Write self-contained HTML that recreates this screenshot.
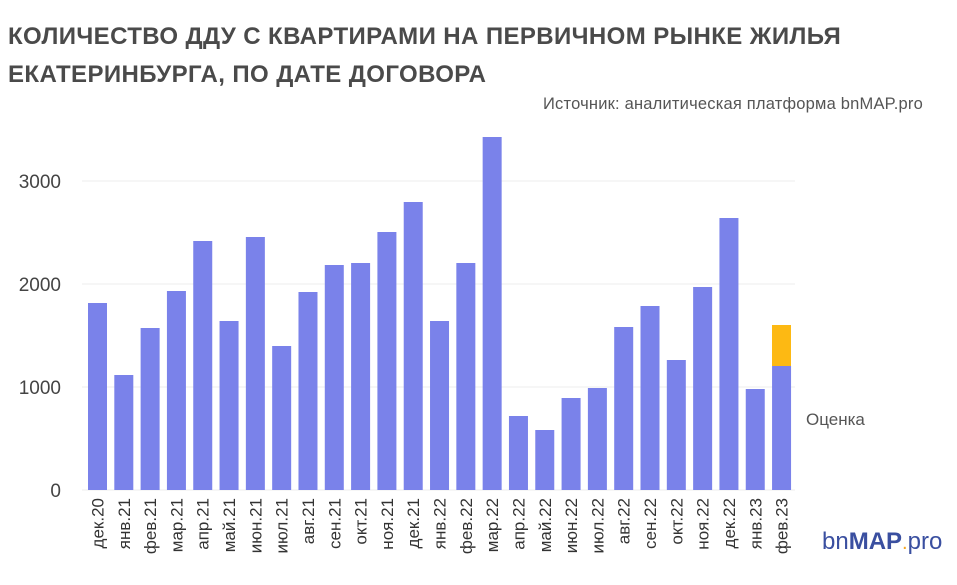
<!DOCTYPE html>
<html><head><meta charset="utf-8"><style>
body{margin:0;width:957px;height:585px;background:#fff;font-family:"Liberation Sans","DejaVu Sans",sans-serif;overflow:hidden;position:relative}
.t{position:absolute;left:8px;font-weight:bold;font-size:24px;color:#4a4a4a;letter-spacing:0.4px}
</style></head><body>
<div class="t" style="top:23px">КОЛИЧЕСТВО ДДУ С КВАРТИРАМИ НА ПЕРВИЧНОМ РЫНКЕ ЖИЛЬЯ</div>
<div class="t" style="top:61px">ЕКАТЕРИНБУРГА, ПО ДАТЕ ДОГОВОРА</div>
<div style="position:absolute;left:543px;top:95px;font-size:16.5px;color:#555;letter-spacing:0.2px">Источник: аналитическая платформа bnMAP.pro</div>
<svg width="957" height="585" style="position:absolute;left:0;top:0" font-family="Liberation Sans, DejaVu Sans, sans-serif">
<g stroke="#eee" stroke-width="1">
<line x1="82" x2="795" y1="181" y2="181"/><line x1="82" x2="795" y1="284" y2="284"/><line x1="82" x2="795" y1="387" y2="387"/><line x1="82" x2="795" y1="490" y2="490"/>
</g>
<g font-size="19" fill="#444" text-anchor="end">
<text x="61" y="188">3000</text><text x="61" y="291">2000</text><text x="61" y="394">1000</text><text x="61" y="497">0</text>
</g>
<g id="bars" fill="#7a82ea"></g>
<rect x="772" y="325" width="19" height="41" fill="#fdb913"/>
<g id="lab" font-size="17" fill="#333" text-anchor="end"></g>
<text x="806" y="425" font-size="17" fill="#555">Оценка</text>
<text x="822" y="549" font-size="24" fill="#3a4fa0">bn<tspan font-weight="bold">MAP</tspan><tspan fill="#f5a623" font-size="20">.</tspan>pro</text>
</svg>
<script>
var tops=[303,375,328,291,241,321,237,346,292,265,263,232,202,321,263,137,416,430,398,388,327,306,360,287,218,389,366];
var labs=["дек.20","янв.21","фев.21","мар.21","апр.21","май.21","июн.21","июл.21","авг.21","сен.21","окт.21","ноя.21","дек.21","янв.22","фев.22","мар.22","апр.22","май.22","июн.22","июл.22","авг.22","сен.22","окт.22","ноя.22","дек.22","янв.23","фев.23"];
var ns="http://www.w3.org/2000/svg",b=document.getElementById("bars"),l=document.getElementById("lab");
for(var i=0;i<27;i++){var x=88+i*26.31;
var r=document.createElementNS(ns,"rect");r.setAttribute("x",x);r.setAttribute("y",tops[i]);r.setAttribute("width",19);r.setAttribute("height",490-tops[i]);b.appendChild(r);
var t=document.createElementNS(ns,"text");var cx=x+15.5;t.setAttribute("transform","translate("+cx+",498) rotate(-90)");t.textContent=labs[i];l.appendChild(t);}
</script>
</body></html>
